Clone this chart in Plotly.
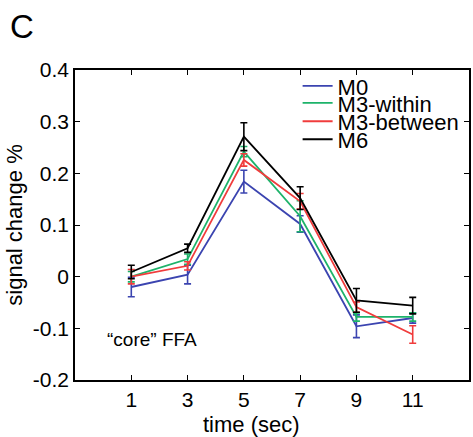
import plotly.graph_objects as go

time = [1, 3, 5, 7, 9, 11]
series_names = ["M0", "M3-within", "M3-between", "M6"]
colors = ["#3b44b0", "#1db36a", "#f03c3c", "#000000"]
m0 = [-0.020, 0.004, 0.184, 0.102, -0.096, -0.080]
m0_err = [0.019, 0.018, 0.022, 0.016, 0.022, 0.010]
m3w = [0.000, 0.034, 0.242, 0.117, -0.078, -0.078]
m3w_err = [0.010, 0.010, 0.010, 0.030, 0.008, 0.008]
m3b = [0.000, 0.021, 0.226, 0.146, -0.059, -0.112]
m3b_err = [0.014, 0.008, 0.012, 0.015, 0.010, 0.017]
m6 = [0.009, 0.055, 0.271, 0.152, -0.046, -0.056]
m6_err = [0.013, 0.008, 0.027, 0.022, 0.023, 0.016]
y_ticks = [-0.2, -0.1, 0, 0.1, 0.2, 0.3, 0.4]
y_ticktext = ["-0.2", "-0.1", "0", "0.1", "0.2", "0.3", "0.4"]

values = [m0, m3w, m3b, m6]
errors = [m0_err, m3w_err, m3b_err, m6_err]
legend_ids = ["legend", "legend2", "legend3", "legend4"]
legend_y = [0.948, 0.893, 0.834, 0.776]

FONT = "Liberation Sans, Arial, Helvetica, sans-serif"
BLACK = "#000000"

fig = go.Figure()
for name, c, v, e, lid in zip(series_names, colors, values, errors, legend_ids):
    fig.add_trace(go.Scatter(
        x=time, y=v, name=name, mode="lines", legend=lid,
        line=dict(color=c, width=1.8),
        error_y=dict(type="data", array=e, visible=True, color=c, thickness=1.6, width=3.5),
    ))

legend_common = dict(xanchor="left", yanchor="middle", bgcolor="rgba(0,0,0,0)",
                     font=dict(size=22, family=FONT, color=BLACK), itemwidth=30,
                     borderwidth=0)
layout_legends = {}
for lid, ly in zip(legend_ids, legend_y):
    layout_legends[lid] = dict(x=0.565, y=ly, **legend_common)

fig.update_layout(
    template="none",
    width=473, height=437,
    margin=dict(l=75, r=4, t=70, b=57),
    paper_bgcolor="white", plot_bgcolor="white",
    font=dict(family=FONT, size=21, color=BLACK),
    showlegend=True,
    xaxis=dict(range=[-1, 13], tickvals=time, ticktext=[str(t) for t in time],
               ticks="inside", ticklen=5, tickcolor=BLACK, tickwidth=1.2,
               showline=True, linecolor=BLACK, linewidth=1.5, mirror="ticks",
               showgrid=False, zeroline=False,
               tickfont=dict(size=21, color=BLACK)),
    yaxis=dict(range=[-0.2, 0.4], tickvals=y_ticks, ticktext=y_ticktext,
               ticks="inside", ticklen=5, tickcolor=BLACK, tickwidth=1.2,
               showline=True, linecolor=BLACK, linewidth=1.5, mirror="ticks",
               showgrid=False, zeroline=False,
               title=dict(text="signal change %", font=dict(size=22, color=BLACK), standoff=4),
               tickfont=dict(size=21, color=BLACK)),
    annotations=[
        dict(text="C", xref="paper", yref="paper", x=-0.17, y=1.139,
             xanchor="left", yanchor="middle", showarrow=False,
             font=dict(size=33, family=FONT, color=BLACK)),
        dict(text="\u201ccore\u201d FFA", xref="x", yref="y", x=0.05, y=-0.122,
             xanchor="left", yanchor="middle", showarrow=False,
             font=dict(size=19, family=FONT, color=BLACK)),
        dict(text="time (sec)", xref="paper", yref="paper", x=0.449, y=-0.142,
             xanchor="center", yanchor="middle", showarrow=False,
             font=dict(size=22, family=FONT, color=BLACK)),
    ],
    **layout_legends,
)

fig.write_html("out.html")
